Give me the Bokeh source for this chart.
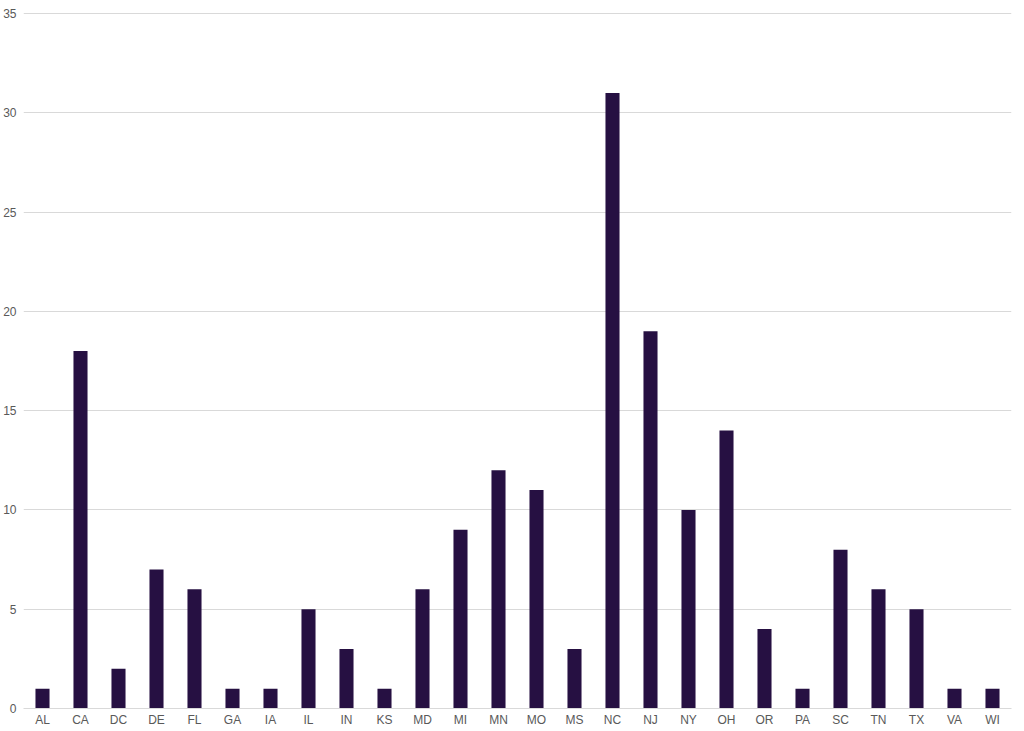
from bokeh.plotting import figure
from bokeh.models import ColumnDataSource, SingleIntervalTicker, Range1d, FactorRange
from bokeh.embed import file_html
from bokeh.resources import INLINE

states = ["AL", "CA", "DC", "DE", "FL", "GA", "IA", "IL", "IN", "KS", "MD", "MI", "MN",
          "MO", "MS", "NC", "NJ", "NY", "OH", "OR", "PA", "SC", "TN", "TX", "VA", "WI"]
counts = [1, 18, 2, 7, 6, 1, 1, 5, 3, 1, 6, 9, 12, 11, 3, 31, 19, 10, 14, 4, 1, 8, 6, 5, 1, 1]

src = ColumnDataSource(dict(state=states, count=counts))

p = figure(x_range=FactorRange(*states, range_padding=0), y_range=Range1d(0, 35.05),
           width=1016, height=729, output_backend="svg", toolbar_location=None,
           min_border_left=23, min_border_right=5, min_border_top=12, min_border_bottom=20)

try:
    from bokeh.models import GlobalInlineStyleSheet
    p.stylesheets = [GlobalInlineStyleSheet(css="body {display: flex; align-items: flex-start;}")]
except Exception:
    pass

p.vbar(x="state", top="count", width=0.37, source=src, color="#261042", line_color=None)

p.outline_line_color = None
p.xgrid.grid_line_color = None
p.ygrid.grid_line_color = "#d9d9d9"
p.ygrid.ticker = SingleIntervalTicker(interval=5)

p.yaxis.ticker = SingleIntervalTicker(interval=5)
p.yaxis.axis_line_color = None
p.yaxis.major_tick_line_color = None
p.yaxis.minor_tick_line_color = None
p.yaxis.major_tick_in = 0
p.yaxis.major_tick_out = 0
p.yaxis.major_label_standoff = 3
p.yaxis.major_label_text_font = "Liberation Sans"
p.yaxis.major_label_text_font_size = "12px"
p.yaxis.major_label_text_color = "#595959"

p.xaxis.axis_line_color = "#d9d9d9"
p.xaxis.major_tick_line_color = None
p.xaxis.minor_tick_line_color = None
p.xaxis.major_tick_in = 0
p.xaxis.major_tick_out = 0
p.xaxis.major_label_standoff = 4
p.xaxis.major_label_text_font = "Liberation Sans"
p.xaxis.major_label_text_font_size = "12px"
p.xaxis.major_label_text_color = "#595959"

open("out.html", "w").write(file_html(p, INLINE))
